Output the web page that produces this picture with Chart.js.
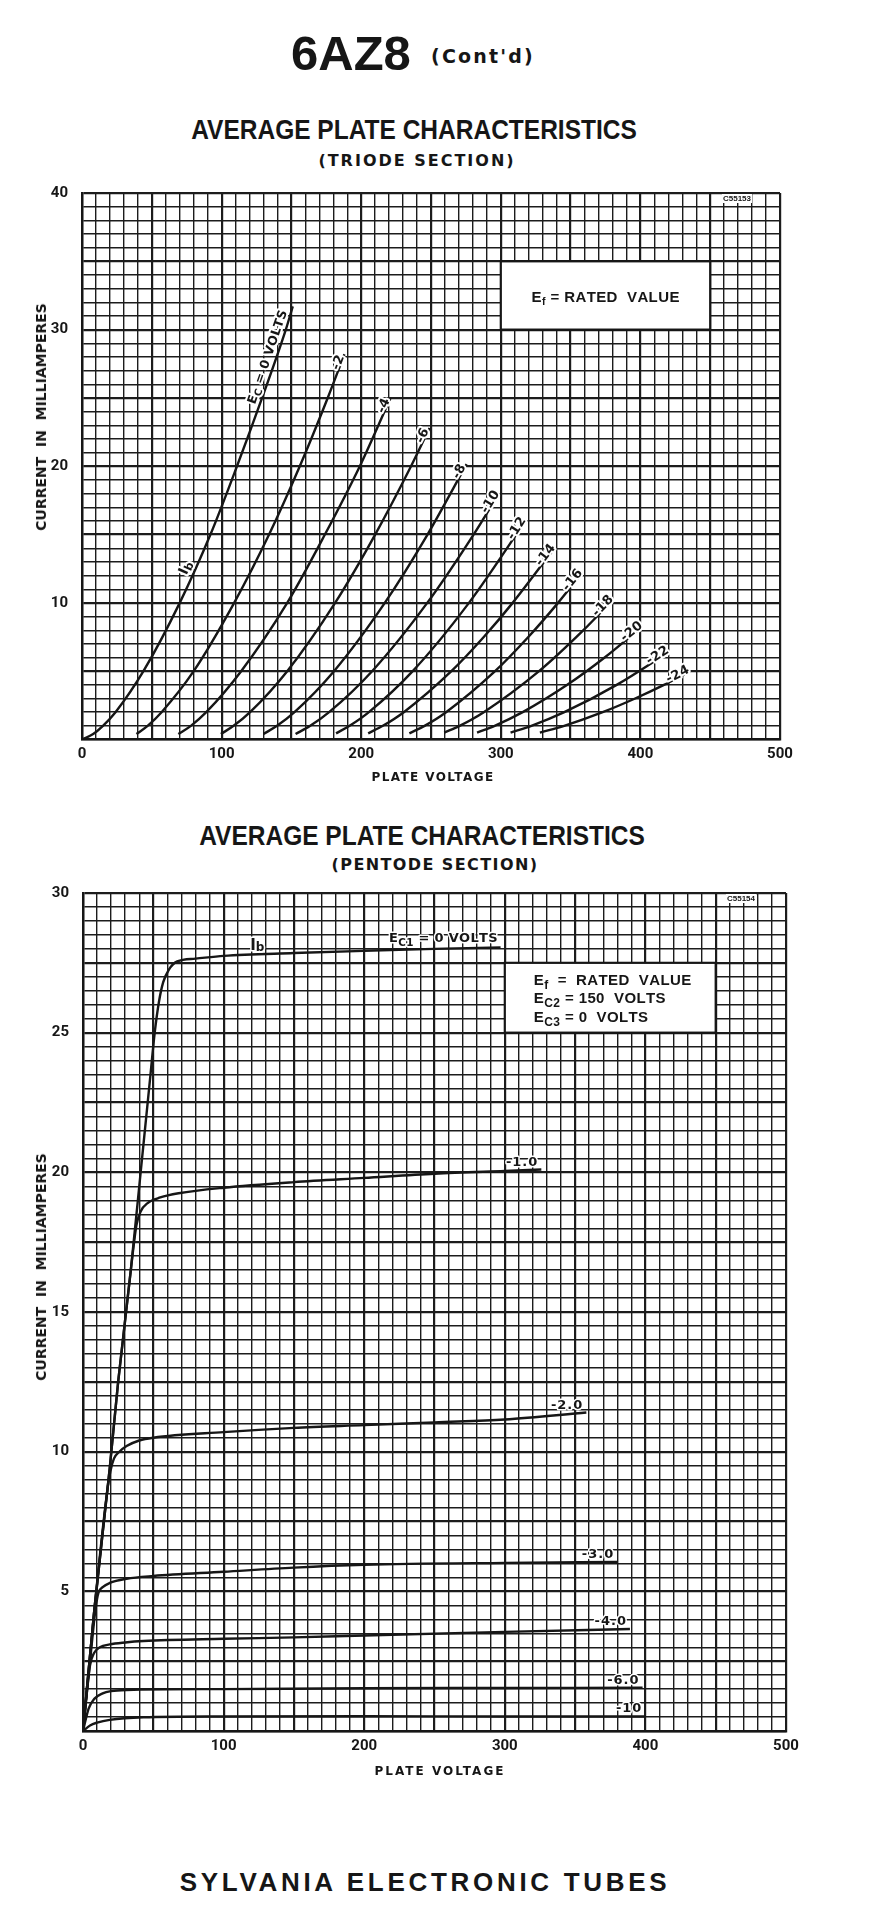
<!DOCTYPE html>
<html>
<head>
<meta charset="utf-8">
<title>6AZ8 (Cont'd) – Average Plate Characteristics</title>
<script src="https://cdn.jsdelivr.net/npm/chart.js@4.4.1/dist/chart.umd.min.js"></script>
<style>
html,body{margin:0;padding:0;background:#fff;}
body{width:878px;height:1913px;position:relative;overflow:hidden;color:#161616;}
.t{position:absolute;white-space:pre;line-height:1;}
.c{transform:translateX(-50%);}
.w{position:absolute;left:0;width:878px;}
.yt{font:700 14px 'DejaVu Sans',sans-serif;transform:translate(-50%,-50%) rotate(-90deg);}
.xt{font:700 12px 'DejaVu Sans',sans-serif;}
.ttl{font:700 28px 'Liberation Sans',Arial,sans-serif;transform:translateX(-50%) scaleX(0.875);}
</style>
</head>
<body>
<div class="t" style="left:291px;top:25px;font:700 49px 'Liberation Sans',Arial,sans-serif;">6AZ8</div>
<div class="t" style="left:431px;top:45px;font:700 19px 'DejaVu Sans',sans-serif;letter-spacing:2.2px;">(Cont'd)</div>

<div class="t ttl" style="left:414px;top:114px;">AVERAGE PLATE CHARACTERISTICS</div>
<div class="t c" style="left:417px;top:151px;font:700 16px 'DejaVu Sans',sans-serif;letter-spacing:2px;">(TRIODE SECTION)</div>
<div class="w" style="top:170px;height:620px;"><canvas id="triode"></canvas></div>
<div class="t yt" style="left:41px;top:417px;">CURRENT  IN  MILLIAMPERES</div>
<div class="t c xt" style="left:433px;top:770px;letter-spacing:1.4px;">PLATE VOLTAGE</div>

<div class="t ttl" style="left:422px;top:820px;">AVERAGE PLATE CHARACTERISTICS</div>
<div class="t c" style="left:435px;top:855px;font:700 16px 'DejaVu Sans',sans-serif;letter-spacing:1.4px;">(PENTODE SECTION)</div>
<div class="w" style="top:870px;height:900px;"><canvas id="pentode"></canvas></div>
<div class="t yt" style="left:41px;top:1267px;">CURRENT  IN  MILLIAMPERES</div>
<div class="t c xt" style="left:440px;top:1764px;letter-spacing:2px;">PLATE VOLTAGE</div>

<div class="t c" style="left:425px;top:1867px;font:700 26px 'Liberation Sans',Arial,sans-serif;letter-spacing:3.7px;">SYLVANIA ELECTRONIC TUBES</div>

<script>
// ---------------- DATA ----------------
// Plate voltage (V) vs plate current (mA), one array per grid-voltage curve.
const xTickLabels = [0, 100, 200, 300, 400, 500];

// Triode section
const triodeGridText = ['EC = 0 VOLTS', '-2', '-4', '-6', '-8', '-10', '-12', '-14', '-16', '-18', '-20', '-22', '-24'];
const triodeYTickLabels = [10, 20, 30, 40];
const triodeEc0   = [[0,0],[8,0.4],[15,1],[24,2],[44,5],[70,10],[92,15],[111,20],[129,25],[146,30],[151,31.7]];
const triodeEcM2  = [[39,0.4],[47,1],[57,2],[80,5],[109,10],[134,15],[156,20],[176,25],[188,28.2]];
const triodeEcM4  = [[69,0.4],[78,1],[89,2],[114,5],[147,10],[174,15],[199,20],[221,25]];
const triodeEcM6  = [[99.5,0.4],[108.6,1],[120.4,2],[147,5],[181.3,10],[210,15],[235.7,20],[249,22.8]];
const triodeEcM8  = [[130,0.4],[139.7,1],[152.2,2],[180.5,5],[216.9,10],[247.5,15],[275.5,20.15]];
const triodeEcM10 = [[153,0.4],[163.5,1],[177,2],[207.8,5],[247.3,10],[280.5,15],[298,17.9]];
const triodeEcM12 = [[182,0.45],[191.7,1],[205.5,2],[236.9,5],[277.2,10],[311,15],[317,15.95]];
const triodeEcM14 = [[205,0.45],[215.5,1],[230.5,2],[264.6,5],[287.8,7.5],[308.5,10],[338,13.95]];
const triodeEcM16 = [[234.5,0.45],[245.4,1],[260.8,2],[295.9,5],[319.7,7.5],[341,10],[357.5,12.1]];
const triodeEcM18 = [[259.5,0.5],[270.5,1],[287.8,2],[327.4,5],[359.2,8],[379.5,10.15]];
const triodeEcM20 = [[283,0.5],[295.6,1],[315.7,2],[347.6,4],[374.4,6],[400.5,8.2]];
const triodeEcM22 = [[307,0.5],[321.9,1],[345.5,2],[383,4],[419.5,6.35]];
const triodeEcM24 = [[328,0.5],[345.4,1],[373,2],[396.2,3],[416.9,4],[434,4.9]];
const triodeCurves = [triodeEc0, triodeEcM2, triodeEcM4, triodeEcM6, triodeEcM8, triodeEcM10,
  triodeEcM12, triodeEcM14, triodeEcM16, triodeEcM18, triodeEcM20, triodeEcM22, triodeEcM24];
const triodeNotes = ['Ef = RATED  VALUE'];

// Pentode section
const pentodeGridText = ['EC1 = 0 VOLTS', '-1.0', '-2.0', '-3.0', '-4.0', '-6.0', '-10'];
const pentodeYTickLabels = [5, 10, 15, 20, 25, 30];
const pentEc0   = [[0,0],[8,4.3],[19,9.4],[25,12.5],[34,16.5],[41,20],[48,23.5],[51,25],[54,26.1],[57,26.8],[61,27.25],[67,27.55],[80,27.65],[100,27.75],[150,27.85],[200,27.93],[250,28.0],[297,28.05]];
const pentEcM1  = [[0,0],[8,4.3],[19,9.4],[25,12.5],[34,16.5],[38,18.1],[41,18.6],[46,18.9],[55,19.1],[68,19.25],[100,19.45],[150,19.65],[200,19.8],[250,19.95],[300,20.05],[326,20.1]];
const pentEcM2  = [[0,0],[8,4.3],[17,8.5],[19.5,9.3],[22,9.75],[26,10.0],[31,10.2],[40,10.4],[50,10.5],[100,10.7],[150,10.85],[200,10.95],[250,11.05],[300,11.15],[358,11.4]];
const pentEcM3  = [[0,0],[5,2.5],[9,4.4],[11,4.95],[14,5.15],[19,5.3],[31,5.45],[50,5.55],[100,5.7],[150,5.85],[200,5.95],[300,6.02],[380,6.05]];
const pentEcM4  = [[0,0],[5,2.35],[8,2.8],[12,3.0],[19,3.1],[30,3.17],[43,3.22],[100,3.3],[150,3.35],[200,3.42],[300,3.55],[389,3.65]];
const pentEcM6  = [[0,0],[4,0.8],[8,1.15],[14,1.35],[20,1.43],[31,1.47],[100,1.5],[200,1.53],[300,1.54],[398,1.55]];
const pentEcM10 = [[0,0],[5,0.2],[10,0.3],[19,0.4],[43,0.49],[100,0.52],[200,0.53],[300,0.52],[400,0.52]];
const pentodeCurves = [pentEc0, pentEcM1, pentEcM2, pentEcM3, pentEcM4, pentEcM6, pentEcM10];
const pentodeNotes = ['Ef  =  RATED  VALUE', 'EC2 = 150  VOLTS', 'EC3 = 0  VOLTS'];

// ---------------- DRAWING ----------------
const INK = '#161616';
const LBL = "'DejaVu Sans', 'Liberation Sans', sans-serif";
const NOTE = "'Liberation Sans', Arial, sans-serif";

function toParts(text) {
  const m = /^E(C\d?|f)(.*)$/.exec(text);
  return m ? [['E'], [m[1], true], [m[2]]] : [[text]];
}
function layoutParts(ctx, parts, st) {
  const sp = st.spacing || 0;
  let w = 0;
  const segs = parts.map(([t, sub]) => {
    const size = sub ? st.size * (st.subScale || 0.75) : st.size;
    ctx.font = `${st.weight || 'bold'} ${size}px ${st.family}`;
    const adv = Array.from(t).map(ch => ctx.measureText(ch).width + sp);
    w += adv.reduce((s, a) => s + a, 0);
    return { t, sub, size, adv };
  });
  return { segs, w: Math.max(0, w - sp) };
}
function drawParts(ctx, parts, x, y, st) {
  const L = layoutParts(ctx, parts, st);
  const x0 = st.align === 'center' ? x - L.w / 2 : st.align === 'right' ? x - L.w : x;
  ctx.save();
  ctx.textAlign = 'left';
  ctx.textBaseline = 'alphabetic';
  (st.halo ? ['halo', 'ink'] : ['ink']).forEach(pass => {
    let cx = x0;
    L.segs.forEach(s => {
      ctx.font = `${st.weight || 'bold'} ${s.size}px ${st.family}`;
      const yy = y + (s.sub ? st.size * (st.subDrop || 0.28) : 0);
      Array.from(s.t).forEach((ch, i) => {
        if (ch !== ' ') {
          if (pass === 'halo') {
            ctx.lineJoin = 'round'; ctx.lineWidth = st.halo; ctx.strokeStyle = '#fff';
            ctx.strokeText(ch, cx, yy);
          } else {
            ctx.fillStyle = INK; ctx.fillText(ch, cx, yy);
          }
        }
        cx += s.adv[i];
      });
    });
  });
  ctx.restore();
}
function drawAlong(ctx, parts, cx, cy, angle, st) {
  ctx.save();
  ctx.translate(cx, cy);
  ctx.rotate(angle);
  drawParts(ctx, parts, 0, st.size * 0.36, Object.assign({}, st, { align: 'center' }));
  ctx.restore();
}
function toPx(chart, p) {
  return { x: chart.scales.x.getPixelForValue(p[0]), y: chart.scales.y.getPixelForValue(p[1]) };
}
function unit(a, b) {
  const dx = b.x - a.x, dy = b.y - a.y, l = Math.hypot(dx, dy) || 1;
  return { x: dx / l, y: dy / l };
}
function atCurrent(chart, curve, cur) {
  for (let k = 1; k < curve.length; k++) {
    const a = curve[k - 1], b = curve[k];
    if (cur >= a[1] && cur <= b[1]) {
      const t = (cur - a[1]) / ((b[1] - a[1]) || 1);
      const pa = toPx(chart, a), pb = toPx(chart, b);
      return { x: pa.x + t * (pb.x - pa.x), y: pa.y + t * (pb.y - pa.y), d: unit(pa, pb) };
    }
  }
  return null;
}
function atVoltage(chart, curve, v) {
  for (let k = 1; k < curve.length; k++) {
    const a = curve[k - 1], b = curve[k];
    if (v >= a[0] && v <= b[0]) {
      const t = (v - a[0]) / ((b[0] - a[0]) || 1);
      const pa = toPx(chart, a), pb = toPx(chart, b);
      return { x: pa.x + t * (pb.x - pa.x), y: pa.y + t * (pb.y - pa.y) };
    }
  }
  return null;
}
function drawNoteBox(chart, box) {
  const { ctx, scales: { x, y } } = chart;
  const l = x.getPixelForValue(box.v0), r = x.getPixelForValue(box.v1);
  const t = y.getPixelForValue(box.i1), b = y.getPixelForValue(box.i0);
  ctx.save();
  ctx.fillStyle = '#fff';
  ctx.fillRect(l, t, r - l, b - t);
  ctx.lineWidth = 2.2;
  ctx.strokeStyle = INK;
  ctx.strokeRect(l, t, r - l, b - t);
  ctx.restore();
  return { l, r, t, b };
}
function drawCode(chart, text, dxRight, dyTop) {
  const { ctx, chartArea } = chart;
  ctx.save();
  ctx.font = `bold 8px ${NOTE}`;
  const w = ctx.measureText(text).width;
  const xr = chartArea.right - dxRight, yt = chartArea.top + dyTop;
  ctx.fillStyle = '#fff';
  ctx.fillRect(xr - w - 1, yt - 1, w + 2, 9);
  ctx.fillStyle = INK;
  ctx.textBaseline = 'top';
  ctx.fillText(text, xr - w, yt);
  ctx.restore();
}

const triodeDecor = {
  id: 'triodeDecor',
  beforeDatasetsDraw(chart, args, opts) {
    const bx = drawNoteBox(chart, opts.box);
    drawParts(chart.ctx, toParts(triodeNotes[0]), (bx.l + bx.r) / 2, (bx.t + bx.b) / 2 + 6.5,
      { size: 15, family: NOTE, spacing: 0.4, align: 'center', subScale: 0.7, subDrop: 0.22 });
    drawCode(chart, opts.code, 29, 2);
  },
  afterDatasetsDraw(chart) {
    const ctx = chart.ctx;
    const st = { size: 13, family: LBL, halo: 4, spacing: 0.3 };
    triodeCurves.forEach((c, i) => {
      if (i === 0) return;
      const a = toPx(chart, c[c.length - 2]), b = toPx(chart, c[c.length - 1]);
      const d = unit(a, b), n = { x: d.y, y: -d.x };
      const cx = b.x - d.x * 10 + n.x * 4, cy = b.y - d.y * 10 + n.y * 4;
      drawAlong(ctx, toParts(triodeGridText[i]), cx, cy, Math.atan2(d.y, d.x), st);
    });
    const q = atCurrent(chart, triodeEc0, 27.8);
    if (q) {
      const n = { x: q.d.y, y: -q.d.x };
      drawAlong(ctx, toParts(triodeGridText[0]), q.x + n.x * 9, q.y + n.y * 9, Math.atan2(q.d.y, q.d.x),
        { size: 12.5, family: LBL, halo: 4, spacing: 0.4, subScale: 0.8, subDrop: 0.2 });
    }
    const ib = atCurrent(chart, triodeEc0, 12.3);
    if (ib) {
      const n = { x: ib.d.y, y: -ib.d.x };
      drawAlong(ctx, [['I'], ['b', true]], ib.x + n.x * 10, ib.y + n.y * 10, Math.atan2(ib.d.y, ib.d.x),
        { size: 14, family: LBL, halo: 4, subScale: 0.8, subDrop: 0.15 });
    }
  }
};

const pentodeDecor = {
  id: 'pentodeDecor',
  beforeDatasetsDraw(chart, args, opts) {
    const bx = drawNoteBox(chart, opts.box);
    const baselines = [22, 40.5, 59.5];
    pentodeNotes.forEach((txt, i) => {
      drawParts(chart.ctx, toParts(txt), bx.l + 29, bx.t + baselines[i],
        { size: 15, family: NOTE, spacing: 0.4, align: 'left', subScale: 0.8, subDrop: 0.25 });
    });
    drawCode(chart, opts.code, 31, 2);
  },
  afterDatasetsDraw(chart) {
    const ctx = chart.ctx;
    pentodeCurves.forEach((c, i) => {
      const e = toPx(chart, c[c.length - 1]);
      if (i === 0) {
        drawParts(ctx, toParts(pentodeGridText[0]), e.x - 3, e.y - 5,
          { size: 13, family: LBL, halo: 3, spacing: 0.3, align: 'right', subScale: 0.8, subDrop: 0.3 });
      } else {
        drawParts(ctx, toParts(pentodeGridText[i]), e.x - 4, e.y - 4,
          { size: 13, family: LBL, halo: 3, spacing: 1, align: 'right' });
      }
    });
    const p = atVoltage(chart, pentEc0, 124);
    if (p) {
      drawParts(ctx, [['I'], ['b', true]], p.x, p.y - 5,
        { size: 15, family: LBL, halo: 3, align: 'center', subScale: 0.8, subDrop: 0.12 });
    }
  }
};

function makeDatasets(curves) {
  return curves.map(c => ({
    data: c.map(([v, i]) => ({ x: v, y: i })),
    showLine: true,
    borderColor: INK,
    borderWidth: 2.4,
    pointRadius: 0,
    pointHoverRadius: 0,
    fill: false,
    cubicInterpolationMode: 'monotone'
  }));
}

function gridOpts(isMajor) {
  return {
    color: '#1c1c1c',
    lineWidth: c => (c.tick && isMajor(c.tick.value)) ? 2.2 : 1.4,
    drawTicks: false
  };
}

function makeChart(id, curves, cfg) {
  return new Chart(document.getElementById(id), {
    type: 'scatter',
    data: { datasets: makeDatasets(curves) },
    options: {
      responsive: true,
      maintainAspectRatio: false,
      animation: false,
      events: [],
      layout: { padding: cfg.padding },
      plugins: {
        legend: { display: false },
        tooltip: { enabled: false },
        triodeDecor: cfg.decorOpts,
        pentodeDecor: cfg.decorOpts
      },
      scales: {
        x: {
          type: 'linear', min: 0, max: 500,
          ticks: {
            stepSize: 10, autoSkip: false, maxRotation: 0, minRotation: 0, padding: 6,
            color: INK, font: { family: 'Roboto', size: 15, weight: 'bold' },
            callback: v => xTickLabels.includes(v) ? String(v) : ''
          },
          grid: gridOpts(v => Math.abs(v / 50 - Math.round(v / 50)) < 1e-6),
          border: { display: true, color: INK, width: 2.4 },
          afterFit: s => { s.height = cfg.xHeight; }
        },
        y: {
          type: 'linear', min: 0, max: cfg.yMax,
          ticks: {
            stepSize: cfg.yStep, autoSkip: false, padding: 14,
            color: INK, font: { family: 'Roboto', size: 15, weight: 'bold' },
            callback: v => cfg.yLabels.includes(v) ? String(v) : ''
          },
          grid: gridOpts(v => Math.abs(v / cfg.yMajor - Math.round(v / cfg.yMajor)) < 1e-6),
          border: { display: true, color: INK, width: 2.4 },
          afterFit: s => { s.width = cfg.yWidth; }
        }
      }
    },
    plugins: [cfg.decor]
  });
}

makeChart('triode', triodeCurves, {
  padding: { top: 20, right: 98, left: 0, bottom: 0 },
  xHeight: 50.5, yWidth: 82, yMax: 40, yStep: 1, yMajor: 5,
  yLabels: triodeYTickLabels,
  decor: triodeDecor,
  decorOpts: { box: { v0: 300, v1: 450, i0: 30, i1: 35 }, code: 'C55153' }
});

makeChart('pentode', pentodeCurves, {
  padding: { top: 18.5, right: 92, left: 0, bottom: 0 },
  xHeight: 39, yWidth: 83, yMax: 30, yStep: 0.5, yMajor: 2.5,
  yLabels: pentodeYTickLabels,
  decor: pentodeDecor,
  decorOpts: { box: { v0: 300, v1: 450, i0: 25, i1: 27.5 }, code: 'C55154' }
});
</script>
</body>
</html>
